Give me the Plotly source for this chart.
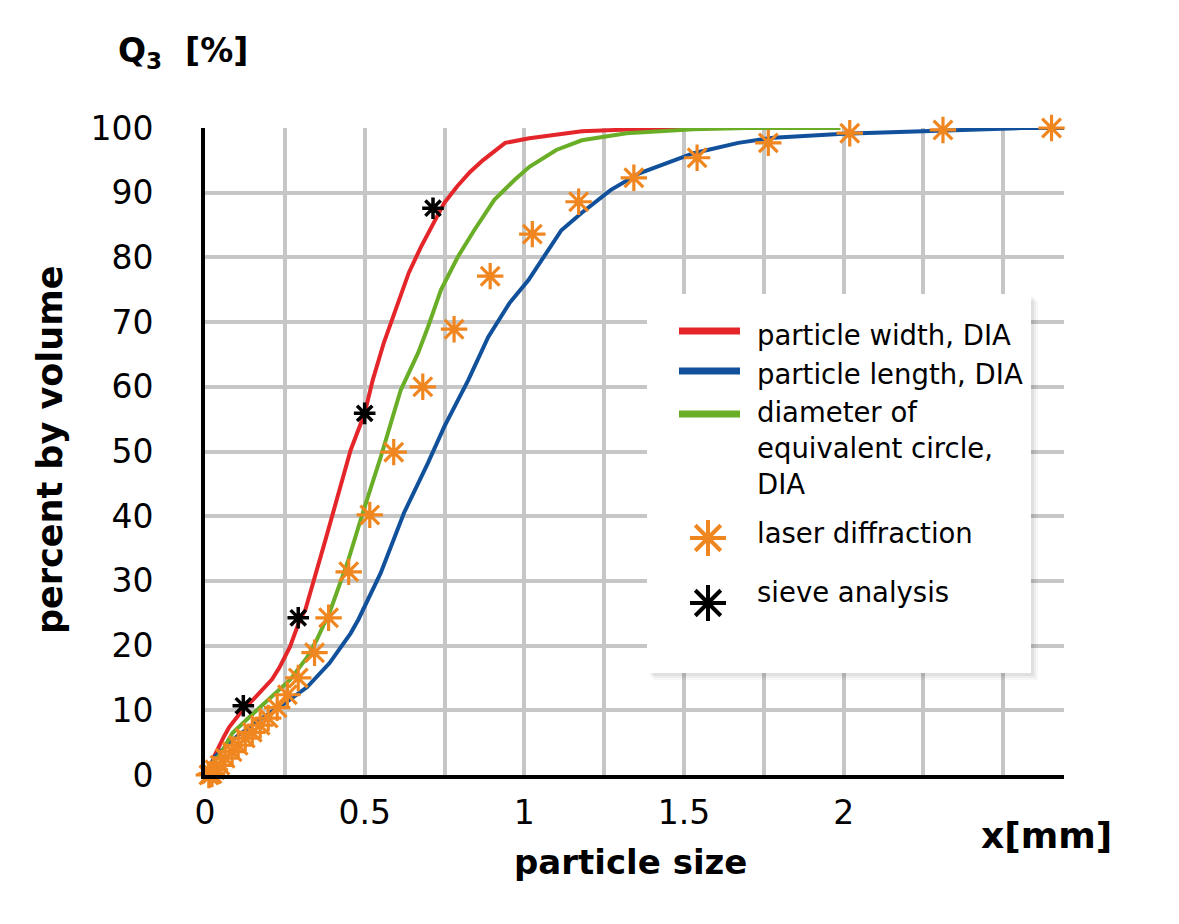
"""
Cumulative particle size distribution Q3
DIA (width / length / equivalent circle) vs laser diffraction and sieve analysis
"""

import plotly.graph_objects as go

# Data, x in mm, Q3 in %
width_x = [0.0, 0.02, 0.03, 0.041, 0.06, 0.076, 0.095, 0.117, 0.15, 0.18, 0.21, 0.234,
           0.266, 0.297, 0.314, 0.377, 0.415, 0.456, 0.50, 0.525, 0.56, 0.60, 0.638,
           0.676, 0.714, 0.749, 0.79, 0.83, 0.87, 0.94, 1.016, 1.18, 1.45, 1.70]
width_q = [0.0, 1.5, 3.0, 4.2, 6.0, 7.4, 8.7, 10.0, 11.6, 13.1, 14.8, 16.7,
           19.8, 24.0, 25.5, 36.3, 43.0, 50.2, 55.9, 61.0, 66.8, 72.3, 77.6,
           81.6, 85.3, 88.4, 91.0, 93.2, 95.0, 97.7, 98.4, 99.5, 100.0, 100.0]

length_x = [0.0, 0.03, 0.1, 0.17, 0.256, 0.32, 0.39, 0.456, 0.48, 0.55, 0.623, 0.698,
            0.749, 0.824, 0.887, 0.953, 1.013, 1.053, 1.116, 1.18, 1.27, 1.36, 1.53,
            1.67, 1.78, 2.0, 2.21, 2.56, 2.69]
length_q = [0.0, 2.8, 6.0, 8.5, 11.3, 13.6, 17.3, 21.9, 24.0, 31.2, 40.5, 48.2,
            53.8, 61.0, 67.7, 72.9, 76.5, 79.6, 84.2, 86.9, 90.4, 93.0, 96.1,
            97.7, 98.5, 99.1, 99.4, 100.0, 100.0]

circle_x = [0.0, 0.02, 0.05, 0.086, 0.14, 0.21, 0.266, 0.32, 0.35, 0.393, 0.446, 0.494,
            0.55, 0.613, 0.667, 0.698, 0.739, 0.792, 0.843, 0.906, 0.97, 1.016, 1.10,
            1.18, 1.32, 1.53, 1.70, 1.99]
circle_q = [0.0, 1.5, 3.4, 6.5, 9.0, 12.1, 14.7, 18.2, 20.9, 25.5, 32.8, 40.5,
            49.1, 59.5, 65.2, 69.2, 75.0, 80.1, 84.2, 88.9, 92.0, 94.0, 96.6,
            98.1, 99.2, 99.8, 100.0, 100.0]

laser_x = [0.012, 0.017, 0.022, 0.031, 0.047, 0.063, 0.085, 0.104, 0.126, 0.148, 0.173,
           0.198, 0.226, 0.258, 0.292, 0.343, 0.387, 0.450, 0.516, 0.591, 0.682,
           0.780, 0.893, 1.025, 1.170, 1.343, 1.541, 1.764, 2.019, 2.311, 2.651]
laser_q = [0.0, 0.1, 0.2, 0.8, 1.5, 2.6, 3.6, 4.6, 5.7, 6.6, 7.7,
           8.8, 10.4, 12.4, 15.0, 18.9, 24.3, 31.4, 40.2, 49.9, 60.0,
           68.9, 77.1, 83.6, 88.6, 92.3, 95.4, 97.7, 99.2, 99.7, 100.0]

sieve_x = [0.12, 0.292, 0.50, 0.714]
sieve_q = [10.7, 24.3, 55.9, 87.6]

x_ticks = [0, 0.5, 1.0, 1.5, 2.0]
x_tick_text = ['0', '0.5', '1', '1.5', '2']
x_grid = [0.25, 0.75, 1.25, 1.75, 2.25, 2.5, 2.69]

# Style
RED = '#E4262B'
BLUE = '#11509B'
GREEN = '#6AAE28'
ORANGE = '#F0861F'
GRID = '#C6C6C6'
FONT = 'DejaVu Sans'

X_MAX = 2.69
PAGE_OFF = 8  # default body margin of the html page
# plot area in page pixels
L, R, T, B = 205, 1064, 128, 775


def paper_x(px):
    return (px - L) / (R - L)


def paper_y(py):
    return (B - py) / (B - T)


def data_x(px):
    return paper_x(px) * X_MAX


def data_y(py):
    return paper_y(py) * 100


fig = go.Figure()

fig.add_trace(go.Scatter(x=width_x, y=width_q, mode='lines',
                         line=dict(color=RED, width=4), name='particle width, DIA'))
fig.add_trace(go.Scatter(x=length_x, y=length_q, mode='lines',
                         line=dict(color=BLUE, width=4), name='particle length, DIA'))
fig.add_trace(go.Scatter(x=circle_x, y=circle_q, mode='lines',
                         line=dict(color=GREEN, width=4),
                         name='diameter of equivalent circle, DIA'))
fig.add_trace(go.Scatter(x=laser_x, y=laser_q, mode='markers',
                         marker=dict(symbol='asterisk', size=22,
                                     line=dict(color=ORANGE, width=3.2)),
                         name='laser diffraction', cliponaxis=False))
fig.add_trace(go.Scatter(x=sieve_x, y=sieve_q, mode='markers',
                         marker=dict(symbol='asterisk', size=18,
                                     line=dict(color='black', width=3.5)),
                         name='sieve analysis'))

# --- hand-drawn legend (box with soft shadow, long line samples) ---
box = (647, 294, 1031, 673)
shapes = []
for off, alpha in [(7, 0.03), (5, 0.04), (3, 0.05)]:
    shapes.append(dict(type='rect', layer='between', xref='x', yref='y',
                       x0=data_x(box[0] + off), x1=data_x(box[2] + off),
                       y0=data_y(box[1] + off), y1=data_y(box[3] + off),
                       fillcolor=f'rgba(0,0,0,{alpha})', line=dict(width=0)))
shapes.append(dict(type='rect', layer='between', xref='x', yref='y',
                   x0=data_x(box[0]), x1=data_x(box[2]),
                   y0=data_y(box[1]), y1=data_y(box[3]),
                   fillcolor='white', line=dict(width=0)))
for color, py in [(RED, 331), (BLUE, 371), (GREEN, 414)]:
    shapes.append(dict(type='line', layer='above', xref='x', yref='y',
                       x0=data_x(679), x1=data_x(740), y0=data_y(py), y1=data_y(py),
                       line=dict(color=color, width=7)))

fig.add_trace(go.Scatter(x=[data_x(708)], y=[data_y(538)], mode='markers',
                         marker=dict(symbol='asterisk', size=30,
                                     line=dict(color=ORANGE, width=4)),
                         hoverinfo='skip'))
fig.add_trace(go.Scatter(x=[data_x(708)], y=[data_y(603)], mode='markers',
                         marker=dict(symbol='asterisk', size=30,
                                     line=dict(color='black', width=4)),
                         hoverinfo='skip'))

legend_items = [
    ('particle width, DIA', 335),
    ('particle length, DIA', 374),
    ('diameter of<br>equivalent circle,<br>DIA', 448),
    ('laser diffraction', 533),
    ('sieve analysis', 592),
]
annotations = []
for text, py in legend_items:
    annotations.append(dict(text=text, xref='paper', yref='paper',
                            x=paper_x(755), y=paper_y(py), xanchor='left', yanchor='middle',
                            align='left', showarrow=False,
                            font=dict(family=FONT, size=27.5, color='black')))

# titles
annotations.append(dict(text='<b>Q<sub>3</sub>&nbsp; [%]</b>', xref='paper', yref='paper',
                        x=paper_x(116), y=paper_y(52), xanchor='left', yanchor='middle',
                        showarrow=False, font=dict(family=FONT, size=33, color='black')))
annotations.append(dict(text='<b>percent by volume</b>', xref='paper', yref='paper',
                        x=paper_x(50), y=paper_y(450), xanchor='center', yanchor='middle',
                        textangle=-90, showarrow=False,
                        font=dict(family=FONT, size=35, color='black')))
annotations.append(dict(text='<b>particle size</b>', xref='paper', yref='paper',
                        x=paper_x(630), y=paper_y(862), xanchor='center', yanchor='middle',
                        showarrow=False, font=dict(family=FONT, size=34, color='black')))
annotations.append(dict(text='<b>x[mm]</b>', xref='paper', yref='paper',
                        x=paper_x(1046), y=paper_y(835), xanchor='center', yanchor='middle',
                        showarrow=False, font=dict(family=FONT, size=36, color='black')))

fig.update_layout(
    width=1179,
    height=924,
    margin=dict(l=L - PAGE_OFF, r=1179 - (R - PAGE_OFF), t=T - PAGE_OFF,
                b=924 - (B - PAGE_OFF), autoexpand=False),
    paper_bgcolor='white',
    plot_bgcolor='white',
    showlegend=False,
    font=dict(family=FONT, color='black'),
    shapes=shapes,
    annotations=annotations,
    xaxis=dict(range=[0, X_MAX], tickvals=x_ticks, ticktext=x_tick_text,
               showgrid=True, gridcolor=GRID, gridwidth=4,
               minor=dict(tickvals=x_grid, showgrid=True, gridcolor=GRID, gridwidth=4),
               showline=True, linecolor='black', linewidth=4,
               zeroline=False, ticks='', ticklabelstandoff=5,
               tickfont=dict(family=FONT, size=33, color='black')),
    yaxis=dict(range=[0, 100], dtick=10,
               showgrid=True, gridcolor=GRID, gridwidth=4,
               showline=True, linecolor='black', linewidth=4,
               zeroline=False, ticks='', ticklabelstandoff=41,
               tickfont=dict(family=FONT, size=33, color='black')),
)

fig.write_html('out.html')
